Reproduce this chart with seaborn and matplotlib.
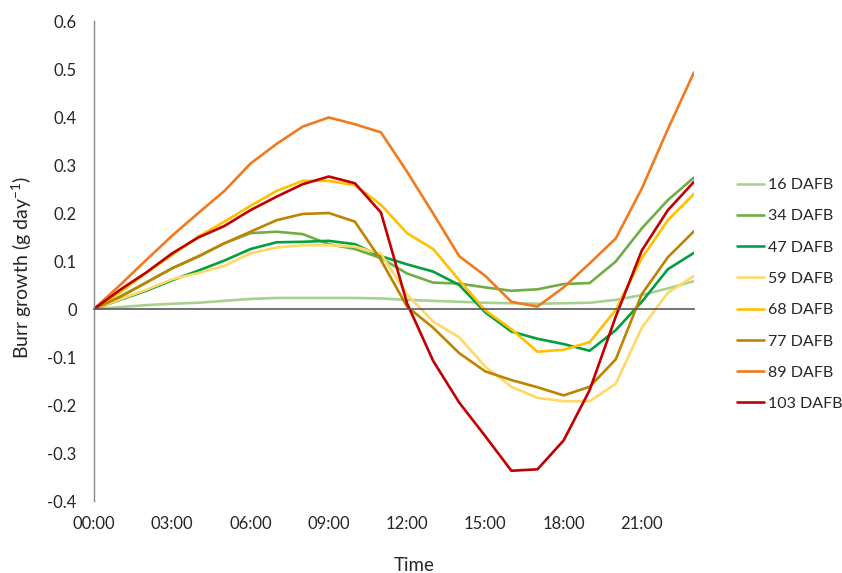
import matplotlib
matplotlib.use('Agg')
import matplotlib.pyplot as plt
import seaborn as sns
import pandas as pd
from matplotlib.ticker import FuncFormatter

# ---------------- data ----------------
hours = [0, 1, 2, 3, 4, 5, 6, 7, 8, 9, 10, 11, 12, 13, 14, 15, 16, 17, 18, 19, 20, 21, 22, 23]
tick_hours = [0, 3, 6, 9, 12, 15, 18, 21]
tick_labels = ['00:00', '03:00', '06:00', '09:00', '12:00', '15:00', '18:00', '21:00']
y_ticks = [-0.4, -0.3, -0.2, -0.1, 0.0, 0.1, 0.2, 0.3, 0.4, 0.5, 0.6]

series_names = ['16 DAFB', '34 DAFB', '47 DAFB', '59 DAFB', '68 DAFB', '77 DAFB', '89 DAFB', '103 DAFB']

dafb_16 = [0, 0.004, 0.008, 0.011, 0.013, 0.017, 0.021, 0.023, 0.023, 0.023, 0.023, 0.022,
           0.019, 0.017, 0.015, 0.013, 0.012, 0.011, 0.012, 0.013, 0.019, 0.029, 0.043, 0.058]
dafb_34 = [0, 0.026, 0.055, 0.085, 0.109, 0.137, 0.158, 0.161, 0.156, 0.135, 0.125, 0.106,
           0.074, 0.055, 0.053, 0.045, 0.038, 0.041, 0.052, 0.054, 0.099, 0.168, 0.227, 0.274]
dafb_47 = [0, 0.019, 0.038, 0.060, 0.080, 0.101, 0.125, 0.139, 0.140, 0.142, 0.135, 0.110,
           0.093, 0.078, 0.050, -0.007, -0.047, -0.062, -0.073, -0.087, -0.044, 0.015, 0.083, 0.117]
dafb_59 = [0, 0.020, 0.040, 0.062, 0.075, 0.090, 0.116, 0.128, 0.133, 0.133, 0.130, 0.115,
           0.030, -0.026, -0.059, -0.120, -0.162, -0.185, -0.192, -0.192, -0.156, -0.039, 0.034, 0.069]
dafb_68 = [0, 0.035, 0.075, 0.113, 0.151, 0.182, 0.215, 0.246, 0.267, 0.267, 0.258, 0.217,
           0.158, 0.125, 0.060, -0.003, -0.042, -0.089, -0.085, -0.069, -0.002, 0.106, 0.185, 0.240]
dafb_77 = [0, 0.025, 0.055, 0.085, 0.110, 0.137, 0.161, 0.185, 0.198, 0.200, 0.182, 0.102,
           0.005, -0.039, -0.092, -0.130, -0.148, -0.163, -0.180, -0.162, -0.105, 0.031, 0.108, 0.162]
dafb_89 = [0, 0.050, 0.102, 0.153, 0.200, 0.246, 0.303, 0.344, 0.380, 0.399, 0.385, 0.368,
           0.286, 0.199, 0.110, 0.069, 0.015, 0.005, 0.045, 0.095, 0.147, 0.251, 0.375, 0.493]
dafb_103 = [0, 0.040, 0.076, 0.116, 0.149, 0.173, 0.206, 0.234, 0.260, 0.276, 0.262, 0.201,
            0.012, -0.108, -0.195, -0.265, -0.337, -0.334, -0.274, -0.169, -0.016, 0.122, 0.206, 0.265]

colors = ['#A9D18E', '#70AD47', '#00A040', '#FFD966', '#FFC000', '#BE8400', '#F27A1E', '#C00000']

all_series = [dafb_16, dafb_34, dafb_47, dafb_59, dafb_68, dafb_77, dafb_89, dafb_103]
rows = []
for name, vals in zip(series_names, all_series):
    for h, v in zip(hours, vals):
        rows.append({'hour': h, 'growth': v, 'series': name})
df = pd.DataFrame(rows)

# ---------------- style ----------------
sns.set_style('white')
plt.rcParams['font.family'] = ['Lato', 'DejaVu Sans']
plt.rcParams['mathtext.fontset'] = 'custom'
plt.rcParams['mathtext.rm'] = 'Lato'
plt.rcParams['mathtext.it'] = 'Lato:italic'
text_color = '#262626'

W, H = 842, 573
fig = plt.figure(figsize=(W / 100, H / 100), dpi=100)
left, right, top, bottom = 94, 694, 21, 501
ax = fig.add_axes([left / W, 1 - bottom / H, (right - left) / W, (bottom - top) / H])

sns.lineplot(data=df, x='hour', y='growth', hue='series', hue_order=series_names,
             palette=dict(zip(series_names, colors)), linewidth=1.9, ax=ax,
             errorbar=None, sort=False)

ax.set_xlim(0, 23)
ax.set_ylim(-0.4, 0.6)

for s in ['top', 'right']:
    ax.spines[s].set_visible(False)
ax.spines['left'].set_color('#868686')
ax.spines['left'].set_linewidth(1)
ax.spines['bottom'].set_position(('data', 0))
ax.spines['bottom'].set_color('#595959')
ax.spines['bottom'].set_linewidth(1.2)

ax.set_yticks(y_ticks)
ax.yaxis.set_major_formatter(FuncFormatter(lambda v, p: '0' if abs(v) < 1e-9 else f'{v:.1f}'))
ax.tick_params(axis='y', direction='in', length=5, width=1, color='#868686',
               labelsize=12, pad=12.5, labelcolor=text_color)
ax.set_xticks(tick_hours[1:])
ax.tick_params(axis='x', direction='inout', length=9, width=1.2, color='#595959',
               labelbottom=False)
ax.set_xlabel('Time', fontsize=13.5, color=text_color, va='center')
ax.xaxis.set_label_coords(0.534, -0.135)
ax.set_ylabel('Burr growth (g day$^{\\mathregular{-1}}$)', fontsize=14, color=text_color)
ax.yaxis.set_label_coords(-0.1, 0.4875)

sec = ax.secondary_xaxis('bottom')
sec.set_xticks(tick_hours, tick_labels)
sec.tick_params(length=0, pad=11, labelsize=12, labelcolor=text_color)
sec.spines['bottom'].set_visible(False)

handles, labels = ax.get_legend_handles_labels()
ax.get_legend().remove()
fig.legend(handles, labels, loc='upper left', bbox_to_anchor=(737 / W, 1 - 178 / H),
           frameon=False, fontsize=11.5, handlelength=1.66, handletextpad=0.25,
           labelspacing=1.07, borderpad=0, borderaxespad=0, labelcolor=text_color)

fig.savefig('out.png', dpi=100)
